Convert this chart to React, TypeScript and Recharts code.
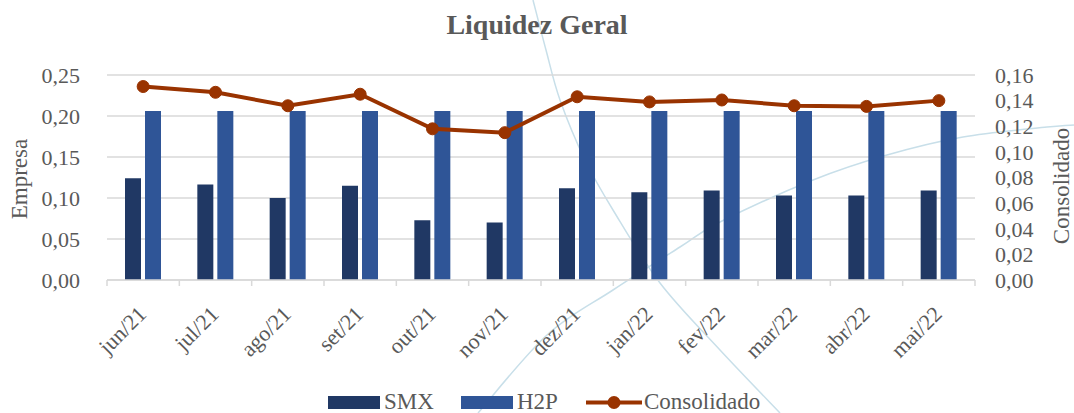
import React from 'react';
import { ComposedChart, Bar, Line, XAxis, YAxis, CartesianGrid } from 'recharts';

const categories = ['jun/21', 'jul/21', 'ago/21', 'set/21', 'out/21', 'nov/21', 'dez/21', 'jan/22', 'fev/22', 'mar/22', 'abr/22', 'mai/22'];
const smxValues = [0.124, 0.1165, 0.1, 0.115, 0.073, 0.07, 0.112, 0.107, 0.109, 0.103, 0.103, 0.109];
const h2pValues = [0.206, 0.206, 0.206, 0.206, 0.206, 0.206, 0.206, 0.206, 0.206, 0.206, 0.206, 0.206];
const consolidadoValues = [0.151, 0.1465, 0.136, 0.145, 0.118, 0.115, 0.143, 0.139, 0.1405, 0.136, 0.1355, 0.14];
const leftTicks = [0, 0.05, 0.1, 0.15, 0.2, 0.25];
const rightTicks = [0, 0.02, 0.04, 0.06, 0.08, 0.1, 0.12, 0.14, 0.16];
const seriesNames = ['SMX', 'H2P', 'Consolidado'];

const data = categories.map((c, i) => ({
  name: c,
  smx: smxValues[i],
  h2p: h2pValues[i],
  consolidado: consolidadoValues[i],
}));

// decorative background swooshes of the slide (not data)
const decoCurveA: [number, number][] = [[533, 0], [546, 50], [560, 100], [585, 160], [613, 210], [660, 283], [720, 350], [780, 413]];
const decoCurveB: [number, number][] = [[478, 413], [547, 335], [613, 290], [680, 247], [720, 222], [813, 180], [887, 155], [963, 137], [1047, 127], [1074, 125]];

const smoothPath = (pts: [number, number][]) => {
  let d = `M${pts[0][0]},${pts[0][1]}`;
  for (let i = 0; i < pts.length - 1; i++) {
    const p0 = pts[i - 1] || pts[i];
    const p1 = pts[i];
    const p2 = pts[i + 1];
    const p3 = pts[i + 2] || p2;
    const c1x = p1[0] + (p2[0] - p0[0]) / 6;
    const c1y = p1[1] + (p2[1] - p0[1]) / 6;
    const c2x = p2[0] - (p3[0] - p1[0]) / 6;
    const c2y = p2[1] - (p3[1] - p1[1]) / 6;
    d += ` C${c1x},${c1y} ${c2x},${c2y} ${p2[0]},${p2[1]}`;
  }
  return d;
};

const FONT = '"Liberation Serif", "Times New Roman", serif';
const TEXT = '#595959';
const SMX_COLOR = '#203864';
const H2P_COLOR = '#2f5597';
const LINE_COLOR = '#993300';
const GRID = '#d9d9d9';
const DECO = '#c8dfe9';

const fmt = (v: number) => v.toFixed(2).replace('.', ',');

const XTick = (props: any) => {
  const { x, payload, index } = props;
  const half = 868 / 12 / 2;
  const baseY = 280;
  return (
    <g>
      <line x1={x - half} x2={x - half} y1={baseY} y2={baseY + 6} stroke={GRID} strokeWidth={1.5} />
      {index === categories.length - 1 && (
        <line x1={x + half} x2={x + half} y1={baseY} y2={baseY + 6} stroke={GRID} strokeWidth={1.5} />
      )}
      <g transform={`translate(${x - 1},${baseY + 30})`}>
        <text
          x={0}
          y={0}
          dy="0.35em"
          textAnchor="end"
          transform="rotate(-45)"
          fill={TEXT}
          fontFamily={FONT}
          fontSize={22}
        >
          {payload.value}
        </text>
      </g>
    </g>
  );
};

export default function App() {
  return (
    <div style={{ position: 'absolute', left: 0, top: 0, width: 1074, height: 413, background: '#fff', fontFamily: FONT, overflow: 'hidden' }}>
      <svg style={{ position: 'absolute', left: 0, top: 0 }} width={1074} height={413}>
        <path d={smoothPath(decoCurveA)} fill="none" stroke={DECO} strokeWidth={1.5} />
        <path d={smoothPath(decoCurveB)} fill="none" stroke={DECO} strokeWidth={1.5} />
      </svg>
      <div
        style={{
          position: 'absolute',
          left: 0,
          top: 7,
          width: 1074,
          textAlign: 'center',
          fontWeight: 'bold',
          fontSize: 28,
          color: TEXT,
          lineHeight: '36px',
        }}
      >
        Liquidez Geral
      </div>
      <div
        style={{
          position: 'absolute',
          left: 20,
          top: 179,
          transform: 'translate(-50%, -50%) rotate(-90deg)',
          fontSize: 23,
          color: TEXT,
          whiteSpace: 'nowrap',
        }}
      >
        Empresa
      </div>
      <div
        style={{
          position: 'absolute',
          left: 1062,
          top: 186,
          transform: 'translate(-50%, -50%) rotate(-90deg)',
          fontSize: 23,
          color: TEXT,
          whiteSpace: 'nowrap',
        }}
      >
        Consolidado
      </div>
      <div style={{ position: 'absolute', left: 0, top: 0 }}>
        <ComposedChart
          width={1074}
          height={413}
          data={data}
          margin={{ top: 75, right: 49, bottom: 0, left: 57 }}
          barSize={16}
          barGap={4}
        >
          <CartesianGrid yAxisId="left" vertical={false} stroke={GRID} strokeWidth={1.5} />
          <XAxis
            dataKey="name"
            height={133}
            interval={0}
            tickLine={false}
            axisLine={{ stroke: GRID, strokeWidth: 1.5 }}
            tick={<XTick />}
          />
          <YAxis
            yAxisId="left"
            orientation="left"
            width={50}
            domain={[0, 0.25]}
            ticks={leftTicks}
            interval={0}
            tickFormatter={fmt}
            axisLine={false}
            tickLine={false}
            tickSize={0}
            tickMargin={27}
            tick={{ fill: TEXT, fontFamily: FONT, fontSize: 22 }}
          />
          <YAxis
            yAxisId="right"
            orientation="right"
            width={50}
            domain={[0, 0.16]}
            ticks={rightTicks}
            interval={0}
            tickFormatter={fmt}
            axisLine={false}
            tickLine={false}
            tickSize={0}
            tickMargin={20}
            tick={{ fill: TEXT, fontFamily: FONT, fontSize: 22, textAnchor: 'start' }}
          />
          <Bar yAxisId="left" dataKey="smx" name={seriesNames[0]} fill={SMX_COLOR} isAnimationActive={false} />
          <Bar yAxisId="left" dataKey="h2p" name={seriesNames[1]} fill={H2P_COLOR} isAnimationActive={false} />
          <Line
            yAxisId="right"
            type="linear"
            dataKey="consolidado"
            name={seriesNames[2]}
            stroke={LINE_COLOR}
            strokeWidth={4}
            dot={{ r: 6, fill: LINE_COLOR, stroke: LINE_COLOR, strokeWidth: 1 }}
            isAnimationActive={false}
          />
        </ComposedChart>
      </div>
      <div
        style={{
          position: 'absolute',
          left: 0,
          top: 389,
          width: 1074,
          height: 26,
          fontSize: 23,
          color: TEXT,
        }}
      >
        <div style={{ position: 'absolute', left: 328, top: 7, width: 52, height: 13, background: SMX_COLOR }} />
        <div style={{ position: 'absolute', left: 384, top: 0, lineHeight: '26px' }}>{seriesNames[0]}</div>
        <div style={{ position: 'absolute', left: 461, top: 7, width: 52, height: 13, background: H2P_COLOR }} />
        <div style={{ position: 'absolute', left: 517, top: 0, lineHeight: '26px' }}>{seriesNames[1]}</div>
        <svg style={{ position: 'absolute', left: 586, top: 0 }} width={56} height={26}>
          <line x1={0} x2={56} y1={13.5} y2={13.5} stroke={LINE_COLOR} strokeWidth={4} />
          <circle cx={28} cy={13.5} r={6.5} fill={LINE_COLOR} />
        </svg>
        <div style={{ position: 'absolute', left: 644, top: 0, lineHeight: '26px' }}>{seriesNames[2]}</div>
      </div>
    </div>
  );
}
